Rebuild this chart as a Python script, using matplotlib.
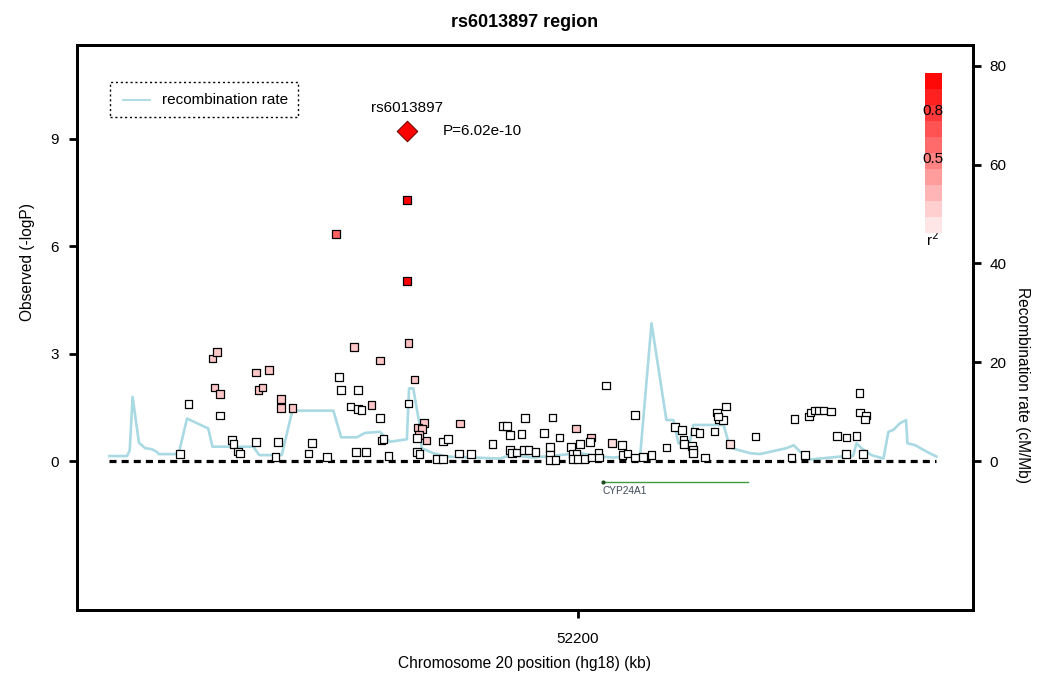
import matplotlib
matplotlib.use("Agg")
import matplotlib.pyplot as plt
from matplotlib.patches import Rectangle
import numpy as np

plt.rcParams['font.family'] = ['Liberation Sans', 'DejaVu Sans']

# ---------------- data ----------------
snp_pos = [52143.7, 52144.9, 52148.3, 52148.9, 52148.6, 52149.4, 52149.4, 52151.1, 52151.3, 52151.9,
           52152.2, 52154.5, 52156.3, 52154.8, 52155.4, 52158.0, 52158.0, 52159.6, 52154.5, 52157.6,
           52157.2, 52162.4, 52161.9, 52164.5, 52168.3, 52166.2, 52166.5, 52168.9, 52167.8, 52168.9,
           52169.4, 52170.8, 52172.0, 52172.0, 52172.2, 52172.5, 52168.6, 52170.0, 52173.2, 52176.0,
           52176.9, 52176.0, 52178.2, 52177.4, 52177.9, 52177.5, 52177.2, 52178.6, 52177.2, 52177.6,
           52180.1, 52180.9, 52180.9, 52181.6, 52183.3, 52183.2, 52184.9, 52187.9, 52189.3, 52190.0,
           52190.4, 52192.0, 52192.5, 52190.4, 52190.7, 52191.3, 52192.4, 52193.0, 52194.0, 52195.2,
           52196.4, 52197.4, 52196.0, 52196.0, 52196.0, 52196.8, 52199.7, 52199.0, 52200.3, 52199.2,
           52199.8, 52199.2, 52200.0, 52200.9, 52201.8, 52201.7, 52202.0, 52202.9, 52203.0, 52204.0,
           52204.8, 52206.2, 52206.3, 52207.0, 52208.1, 52208.1, 52209.2, 52210.4, 52212.5, 52213.7,
           52214.7, 52214.9, 52215.0, 52216.1, 52216.3, 52216.3, 52216.5, 52217.2, 52218.0, 52219.3,
           52219.7, 52219.9, 52220.5, 52220.9, 52219.8, 52221.5, 52225.1, 52230.6, 52230.2, 52232.1,
           52232.7, 52232.9, 52233.5, 52234.0, 52234.7, 52235.8, 52236.6, 52238.0, 52239.4, 52237.9,
           52240.3, 52239.8, 52239.9, 52240.7, 52240.6,
           52165.8, 52175.8, 52175.8]
snp_logp = [0.20, 1.59, 2.87, 3.05, 2.06, 1.87, 1.27, 0.58, 0.47, 0.27,
            0.21, 2.47, 2.54, 1.98, 2.06, 1.74, 1.48, 1.48, 0.53, 0.53,
            0.12, 0.50, 0.21, 0.12, 3.19, 2.34, 1.99, 1.99, 1.52, 1.45,
            1.42, 1.57, 2.81, 1.20, 0.57, 0.61, 0.25, 0.25, 0.14, 3.29,
            2.28, 1.61, 1.07, 0.94, 0.89, 0.73, 0.65, 0.57, 0.26, 0.19,
            0.05, 0.06, 0.54, 0.61, 1.05, 0.21, 0.19, 0.47, 0.98, 0.98,
            0.72, 0.75, 1.20, 0.31, 0.23, 0.24, 0.31, 0.31, 0.25, 0.79,
            1.22, 0.66, 0.40, 0.18, 0.03, 0.03, 0.91, 0.40, 0.47, 0.20,
            0.20, 0.06, 0.06, 0.06, 0.66, 0.53, 0.10, 0.24, 0.10, 2.11,
            0.50, 0.44, 0.16, 0.21, 1.29, 0.10, 0.12, 0.16, 0.38, 0.95,
            0.86, 0.58, 0.47, 0.42, 0.31, 0.23, 0.82, 0.79, 0.10, 0.82,
            1.36, 1.16, 1.15, 1.52, 1.24, 0.47, 0.69, 1.17, 0.10, 0.17,
            1.24, 1.36, 1.41, 1.41, 1.41, 1.38, 0.70, 0.66, 0.70, 0.20,
            0.20, 1.90, 1.36, 1.27, 1.16,
            6.34, 7.29, 5.03]
snp_r2 = [0, 0, .22, .22, .22, .22, 0, 0, 0, 0,
          0, .22, .22, .22, .22, .22, .22, .22, 0, 0,
          0, 0, 0, 0, .22, 0, 0, 0, 0, 0,
          0, .22, .22, 0, 0, 0, 0, 0, 0, .25,
          .22, 0, .22, .22, .22, .22, 0, .22, 0, 0,
          0, 0, 0, 0, .22, 0, 0, 0, 0, 0,
          0, 0, 0, 0, 0, 0, 0, 0, 0, 0,
          0, 0, 0, 0, 0, 0, .22, 0, 0, 0,
          0, 0, 0, 0, .22, 0, 0, 0, 0, 0,
          .12, 0, 0, 0, 0, 0, 0, 0, 0, 0,
          0, 0, 0, 0, 0, 0, 0, 0, 0, 0,
          0, 0, 0, 0, 0, .12, 0, 0, 0, 0,
          0, 0, 0, 0, 0, 0, 0, 0, 0, 0,
          0, 0, 0, 0, 0,
          .62, 1.0, 1.0]

lead_name = "rs6013897"
lead_pos = 52175.8
lead_logp = 9.22
lead_label = "P=6.02e-10"

rec_pos = [52133.7, 52136.2, 52136.6, 52137.0, 52137.9, 52138.8, 52139.7, 52140.4, 52140.7, 52143.5,
           52144.7, 52147.7, 52148.3, 52154.1, 52154.9, 52158.1, 52159.6, 52165.4, 52166.5, 52168.7,
           52169.9, 52172.0, 52172.7, 52173.4, 52175.8, 52176.1, 52176.7, 52177.6, 52177.9, 52179.5,
           52181.4, 52189.0, 52190.4, 52193.7, 52200.3, 52203.1, 52205.0, 52208.8, 52210.4, 52212.5,
           52213.5, 52214.2, 52215.8, 52216.3, 52220.6, 52221.5, 52224.3, 52225.7, 52229.5, 52230.5,
           52231.4, 52232.8, 52237.1, 52238.9, 52239.4, 52240.1, 52241.5, 52243.2, 52243.9, 52244.6,
           52245.5, 52246.4, 52246.6, 52247.7, 52249.3, 52250.7]
rec_rate = [1.0, 1.0, 2.2, 13.0, 3.7, 2.6, 2.4, 1.9, 1.4, 1.4,
            8.6, 6.6, 2.9, 2.9, 1.2, 1.2, 10.2, 10.2, 4.8, 4.8,
            5.7, 5.9, 4.9, 3.9, 4.4, 14.7, 14.7, 7.3, 2.6, 1.6,
            0.9, 0.5, 1.2, 0.7, 1.6, 0.9, 0.7, 1.2, 27.9, 8.3,
            8.3, 3.6, 3.6, 7.3, 7.3, 2.7, 1.6, 1.4, 2.6, 3.2,
            1.9, 0.3, 0.9, 1.0, 3.6, 2.6, 1.2, 0.5, 5.9, 6.3,
            7.6, 8.3, 3.6, 3.2, 1.9, 0.9]

gene_name = "CYP24A1"
gene_start = 52203.5
gene_end = 52224.0

xticks = [52200]
yticks_left = [0, 3, 6, 9]
yticks_right = [0, 20, 40, 60, 80]
r2_legend = [0.1, 0.2, 0.3, 0.4, 0.5, 0.6, 0.7, 0.8, 0.9, 1.0]


def r2_color(r):
    g = 1.0 - r
    return (1.0, g, g)


# ---------------- figure ----------------
fig = plt.figure(figsize=(10.37, 6.79), dpi=100)
ax = fig.add_axes([77 / 1037, 69 / 679, 896 / 1037, 565 / 679])

ylim = (-4.164, 11.627)
xlim = (52129.14, 52255.87)
scale = 7.246

ax2 = ax.twinx()
ax2.set_ylim(ylim[0] * scale, ylim[1] * scale)
ax2.plot(rec_pos, rec_rate, color='#a9d9e2', lw=1.9, zorder=1)
ax.set_zorder(ax2.get_zorder() + 1)
ax.patch.set_visible(False)

# baseline
ax.plot([min(rec_pos), max(rec_pos)], [0, 0], color='black', lw=2.3,
        linestyle=(0, (2.2, 1.6)), zorder=2)

cols = [r2_color(r) for r in snp_r2]
ax.scatter(snp_pos, snp_logp, s=30, marker='s', c=cols, edgecolors='black',
           linewidths=0.9, zorder=3)
ax.scatter([lead_pos], [lead_logp], s=110, marker='D', color='#ff0000',
           edgecolors='#600000', linewidths=0.7, zorder=4)
ax.text(lead_pos, lead_logp + 0.65, lead_name, ha='center', va='center', fontsize=11)
ax.text(lead_pos + 5.1, lead_logp, lead_label, ha='left', va='center', fontsize=11)

# gene
ax.plot([gene_start, gene_end], [-0.59, -0.59], color='#3f9b3f', lw=1.0, zorder=2)
ax.plot([gene_start], [-0.59], marker='o', ms=2, color='#1a4a1a', zorder=2)
ax.text(gene_start, -0.70, gene_name, ha='left', va='top', fontsize=7.3, color='#404a5a')

ax.set_xlim(*xlim)
ax.set_ylim(*ylim)
ax.set_xticks(xticks)
ax.set_xticklabels([str(t) for t in xticks])
ax.set_yticks(yticks_left)
ax2.set_yticks(yticks_right)

for a in (ax, ax2):
    for sp in a.spines.values():
        sp.set_linewidth(2.0)
    a.tick_params(direction='out', length=6, width=2.0, labelsize=11, pad=6)
ax.tick_params(axis='x', pad=10)
ax.tick_params(axis='y', pad=7)

ax.set_title("rs6013897 region", fontsize=13, fontweight='bold', pad=13)
ax.set_xlabel("Chromosome 20 position (hg18) (kb)", fontsize=11.2)
ax.xaxis.set_label_coords(0.5, -0.082)
ax.set_ylabel("Observed (-logP)", fontsize=11.2)
ax.yaxis.set_label_coords(-0.047, 0.616)
ax2.set_ylabel("Recombination rate (cM/Mb)", fontsize=11.2, rotation=270, va='center')
ax2.yaxis.set_label_coords(1.0547, 0.398)

# legend box (dotted)
ax.add_patch(Rectangle((0.0368, 0.8726), 0.2099, 0.0619, transform=ax.transAxes,
                       fill=False, linestyle=(0, (1.5, 2.0)), lw=1.0, edgecolor='black', zorder=5))
ax.plot([0.0513, 0.0815], [0.9035, 0.9035], transform=ax.transAxes, color='#a9d9e2', lw=1.3)
ax.text(0.0948, 0.9035, "recombination rate", transform=ax.transAxes, ha='left',
        va='center', fontsize=11)

# r2 colour bar
cax = ax.inset_axes([0.9464, 0.667, 0.019, 0.283])
for i, r in enumerate(r2_legend):
    cax.add_patch(Rectangle((0, i), 1, 1, facecolor=r2_color(r * 0.97), edgecolor='none'))
cax.set_xlim(0, 1)
cax.set_ylim(0, len(r2_legend))
cax.axis('off')
ax.text(0.955, 0.883, "0.8", transform=ax.transAxes, ha='center', va='center', fontsize=11, zorder=6)
ax.text(0.955, 0.798, "0.5", transform=ax.transAxes, ha='center', va='center', fontsize=11, zorder=6)
ax.text(0.955, 0.655, "r$^2$", transform=ax.transAxes, ha='center', va='center', fontsize=11)

fig.savefig("out.png", dpi=100)
